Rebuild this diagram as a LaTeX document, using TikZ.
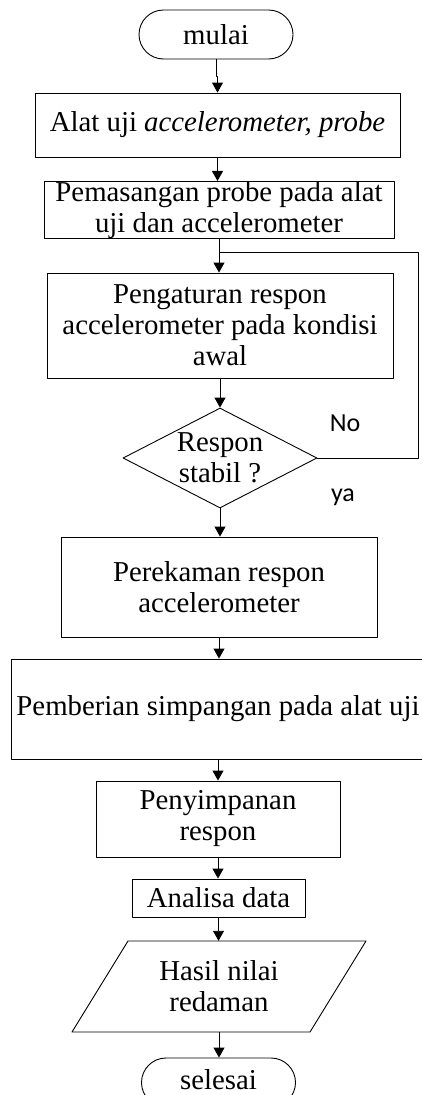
\documentclass[tikz,border=0pt]{standalone}
\usepackage{fontspec}
\setmainfont{Liberation Serif}
\newfontfamily\ketfont{Carlito}
\usetikzlibrary{shapes.geometric,shapes.misc,arrows.meta}

\begin{document}
\begin{tikzpicture}[x=1pt,y=-1pt,>={Triangle[length=10pt,width=11pt]},line join=round,
	font=\fontsize{28.8}{31}\selectfont,
	garis/.style={line width=0.9pt},
	proses/.style={draw,garis,rectangle,align=center,inner sep=0pt},
	terminal/.style={draw,garis,rounded rectangle,align=center,inner sep=0pt,minimum width=154,minimum height=49},
	keputusan/.style={draw,garis,diamond,inner sep=0pt,minimum width=194,minimum height=100},
	teks/.style={align=center,inner sep=0pt},
	ket/.style={font=\ketfont\fontsize{26}{30}\selectfont}]
		\useasboundingbox (0,0) rectangle (422,1095);
		\clip (0,0) rectangle (422,1095);
		\node[terminal] (mulai) at (216,34.5) {mulai};
		\node[proses,minimum width=365,minimum height=64] (alat) at (217.5,125) {Alat uji \textit{accelerometer, probe}};
		\node[proses,minimum width=350,minimum height=54] (pasang) at (219,210) {Pemasangan probe pada alat\\uji dan accelerometer};
		\node[proses,minimum width=346,minimum height=105] (atur) at (220,325.5) {Pengaturan respon\\accelerometer pada kondisi\\awal};
		\node[keputusan] (cek) at (220,458) {};
		\node[teks] (cekteks) at (cek) {Respon\\stabil ?};
		\node[proses,minimum width=316,minimum height=100] (rekam) at (219,587) {Perekaman respon\\accelerometer};
		\node[proses,minimum width=414,minimum height=100] (beri) at (218,709) {Pemberian simpangan pada alat uji};
		\node[proses,minimum width=244,minimum height=76] (simpan) at (218,819) {Penyimpanan\\respon};
		\node[proses,minimum width=173,minimum height=38] (analisa) at (218.5,898) {Analisa data};
		\node[teks,minimum height=91] (hasil) at (219,986.5) {Hasil nilai\\redaman};
		\draw[garis] (128,941) -- (366,941) -- (310,1032) -- (72,1032) -- cycle;
		\node[terminal,text depth=6pt] (selesai) at (218.5,1082.5) {selesai};
		\node[ket] (no) at (345,423) {No};
		\node[ket] (ya) at (343,497) {ya};
		\coordinate (balik) at (418,252);
		\draw[garis,->] (mulai.south) -- ++(0,17) -| (alat.north);
		\draw[garis,->] (alat.south) -- (alat.south |- pasang.north);
		\draw[garis,->] (pasang.south) -- (pasang.south |- atur.north);
		\draw[garis] (cek.east) -| (balik) -- (balik -| pasang.south);
		\draw[garis,->] (atur.south) -- (atur.south |- cek.north);
		\draw[garis,->] (cek.south) -- (cek.south |- rekam.north);
		\draw[garis,->] (rekam.south) -- (rekam.south |- beri.north);
		\draw[garis,->] (beri.south) -- (beri.south |- simpan.north);
		\draw[garis,->] (simpan.south) -- (simpan.south |- analisa.north);
		\draw[garis,->] (analisa.south) -- (analisa.south |- hasil.north);
		\draw[garis,->] (hasil.south) -- (hasil.south |- selesai.north);
\end{tikzpicture}
\end{document}
